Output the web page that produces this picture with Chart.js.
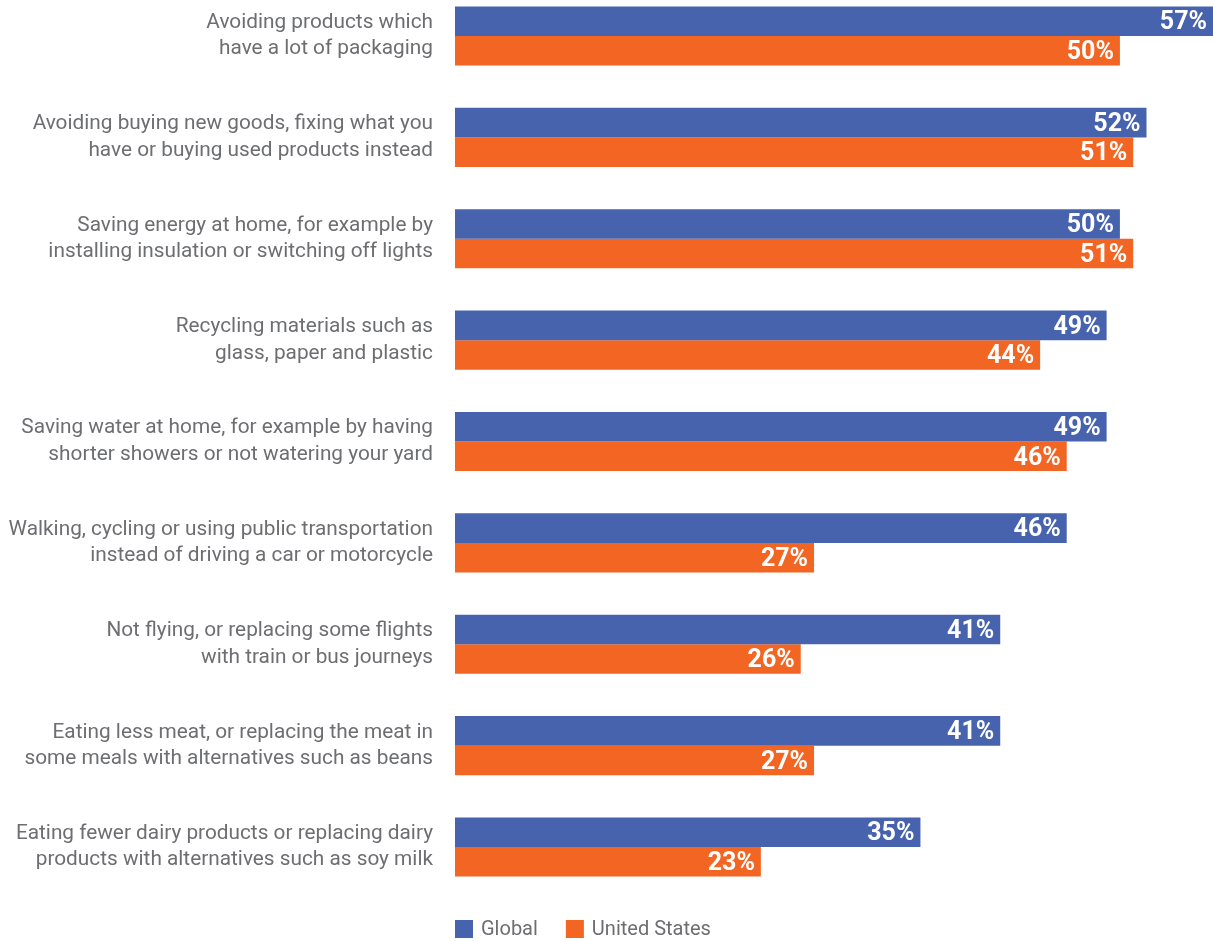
<!DOCTYPE html>
<html>
<head>
<meta charset="utf-8">
<script src="https://cdn.jsdelivr.net/npm/chart.js@4/dist/chart.umd.min.js"></script>
<style>
    html, body { margin: 0; padding: 0; background: #fff; }
    #wrap { width: 1213px; height: 941px; position: relative; }
</style>
</head>
<body>
<div id="wrap"><canvas id="chart"></canvas></div>
<script>
const categories = [
    ["Avoiding products which", "have a lot of packaging"],
    ["Avoiding buying new goods, fixing what you", "have or buying used products instead"],
    ["Saving energy at home, for example by", "installing insulation or switching off lights"],
    ["Recycling materials such as", "glass, paper and plastic"],
    ["Saving water at home, for example by having", "shorter showers or not watering your yard"],
    ["Walking, cycling or using public transportation", "instead of driving a car or motorcycle"],
    ["Not flying, or replacing some flights", "with train or bus journeys"],
    ["Eating less meat, or replacing the meat in", "some meals with alternatives such as beans"],
    ["Eating fewer dairy products or replacing dairy", "products with alternatives such as soy milk"]
];
const globalValues = [57, 52, 50, 49, 49, 46, 41, 41, 35];
const usValues = [50, 51, 51, 44, 46, 27, 26, 27, 23];
const seriesNames = ["Global", "United States"];

const BLUE = "#4863ae";
const ORANGE = "#f26522";
const GREY = "#6d6e71";
const FONT = "'Liberation Sans Narrow', 'Roboto', sans-serif";

// white percentage labels at the end of each bar
const barLabels = {
    id: "barLabels",
    afterDatasetsDraw(chart) {
        const ctx = chart.ctx;
        ctx.save();
        ctx.font = "bold 25px " + FONT;
        ctx.fillStyle = "#fff";
        ctx.textAlign = "right";
        ctx.textBaseline = "middle";
        chart.data.datasets.forEach((ds, i) => {
            chart.getDatasetMeta(i).data.forEach((bar, j) => {
                ctx.fillText(ds.data[j] + "%", bar.x - 6, bar.y + 2);
            });
        });
        ctx.restore();
    }
};

// legend drawn under the bars, left aligned with the plot
const bottomLegend = {
    id: "bottomLegend",
    afterDraw(chart) {
        const ctx = chart.ctx;
        const y = 929;
        let x = chart.chartArea.left;
        ctx.save();
        ctx.font = "20px " + FONT;
        ctx.textBaseline = "middle";
        ctx.textAlign = "left";
        chart.data.datasets.forEach(ds => {
            ctx.fillStyle = ds.backgroundColor;
            ctx.fillRect(x, y - 9, 18, 18);
            ctx.fillStyle = GREY;
            ctx.fillText(ds.label, x + 26, y + 1);
            x += 26 + ctx.measureText(ds.label).width + 28;
        });
        ctx.restore();
    }
};

new Chart(document.getElementById("chart"), {
    type: "bar",
    data: {
        labels: categories,
        datasets: [
            { label: seriesNames[0], data: globalValues, backgroundColor: BLUE, clip: false },
            { label: seriesNames[1], data: usValues, backgroundColor: ORANGE, clip: false }
        ]
    },
    options: {
        indexAxis: "y",
        responsive: true,
        maintainAspectRatio: false,
        animation: false,
        categoryPercentage: 0.582,
        barPercentage: 1,
        layout: { padding: { top: 36, bottom: 94, right: 0, left: 0 } },
        scales: {
            x: {
                display: false,
                min: 0,
                max: 57
            },
            y: {
                offset: false,
                grid: { display: false, drawTicks: false },
                border: { display: false },
                ticks: {
                    color: GREY,
                    padding: 22,
                    font: { family: FONT, size: 20.8, lineHeight: 1.27 }
                },
                afterFit(scale) {
                    scale.width = 455;
                    scale.paddingTop = 0;
                    scale.paddingBottom = 0;
                }
            }
        },
        plugins: {
            legend: { display: false },
            tooltip: { enabled: false }
        }
    },
    plugins: [barLabels, bottomLegend]
});
</script>
</body>
</html>
